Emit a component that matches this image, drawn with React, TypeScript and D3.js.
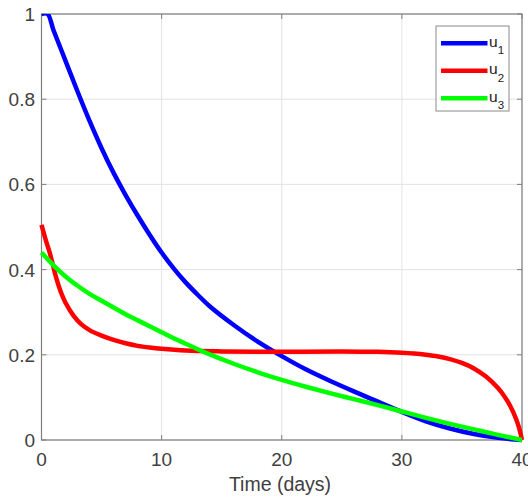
import React from "react";
import * as d3 from "d3";

const u1T = [0, 0.5, 1, 2, 3, 4, 5, 6, 7, 8, 9, 10, 11, 12, 13, 14, 16, 18, 20, 22, 24, 26, 28, 30, 32, 34, 36, 38, 40];
const u1V = [1, 1, 0.962, 0.89, 0.818, 0.749, 0.685, 0.627, 0.575, 0.527, 0.482, 0.44, 0.403, 0.37, 0.341, 0.314, 0.27, 0.231, 0.197, 0.166, 0.139, 0.114, 0.09, 0.066, 0.044, 0.027, 0.014, 0.005, 0];

const u2T = [0, 0.35, 0.7, 1, 1.25, 1.6, 2, 2.66, 3.3, 4, 5, 6, 7, 8, 9, 10, 12, 15, 20, 25, 28, 30, 31, 32, 33, 34, 35, 36, 37, 38, 38.5, 39, 39.5, 39.75, 40];
const u2V = [0.505, 0.47, 0.438, 0.405, 0.378, 0.348, 0.322, 0.292, 0.272, 0.258, 0.245, 0.235, 0.227, 0.221, 0.217, 0.214, 0.21, 0.208, 0.207, 0.208, 0.207, 0.205, 0.203, 0.2, 0.196, 0.19, 0.181, 0.168, 0.149, 0.122, 0.104, 0.081, 0.05, 0.029, 0];

const u3T = [0, 1, 2, 3, 4, 5, 6, 7, 8, 9, 10, 11, 12, 13, 14, 16, 18, 20, 22, 24, 26, 28, 30, 32, 34, 36, 38, 40];
const u3V = [0.44, 0.41, 0.384, 0.362, 0.343, 0.327, 0.311, 0.295, 0.281, 0.267, 0.253, 0.239, 0.226, 0.213, 0.201, 0.179, 0.159, 0.141, 0.125, 0.11, 0.096, 0.082, 0.067, 0.052, 0.038, 0.025, 0.012, 0];

const xTicks = [0, 10, 20, 30, 40];
const yTicks = [0, 0.2, 0.4, 0.6, 0.8, 1];
const seriesNames = ["1", "2", "3"];
const seriesColors = ["#0000ff", "#ff0000", "#00ff00"];

export default function App() {
  const W = 528, H = 499;
  const x = d3.scaleLinear().domain([0, 40]).range([41.5, 522]);
  const y = d3.scaleLinear().domain([0, 1]).range([440, 14]);
  const line = d3
    .line<[number, number]>()
    .x((d) => x(d[0]))
    .y((d) => y(d[1]))
    .curve(d3.curveCatmullRom.alpha(0.5));
  const series = [
    u1T.map((t, i) => [t, u1V[i]] as [number, number]),
    u2T.map((t, i) => [t, u2V[i]] as [number, number]),
    u3T.map((t, i) => [t, u3V[i]] as [number, number]),
  ];
  const font = "'Liberation Sans', Arial, Helvetica, sans-serif";
  const axisCol = "#7f7f7f";
  const textCol = "#404040";
  const [x0, x1] = x.range();
  const [y0, y1] = y.range();
  const legX = 436, legY = 26, legW = 73, legH = 85;
  return (
    <svg
      width={W}
      height={H}
      style={{ position: "absolute", left: 0, top: 0, background: "#fff" }}
      fontFamily={font}
    >
      <rect x={0} y={0} width={W} height={H} fill="#fff" />
      {xTicks.map((t) => (
        <line key={"gx" + t} x1={x(t)} x2={x(t)} y1={y0} y2={y1} stroke="#e3e3e3" strokeWidth={1} />
      ))}
      {yTicks.map((t) => (
        <line key={"gy" + t} x1={x0} x2={x1} y1={y(t)} y2={y(t)} stroke="#e3e3e3" strokeWidth={1} />
      ))}
      <rect x={x0} y={y1} width={x1 - x0} height={y0 - y1} fill="none" stroke={axisCol} strokeWidth={1.2} />
      {xTicks.map((t) => (
        <g key={"tx" + t}>
          <line x1={x(t)} x2={x(t)} y1={y0} y2={y0 - 5} stroke={axisCol} />
          <line x1={x(t)} x2={x(t)} y1={y1} y2={y1 + 5} stroke={axisCol} />
          <text x={x(t)} y={466} textAnchor="middle" fontSize={19} fill={textCol}>
            {String(t)}
          </text>
        </g>
      ))}
      {yTicks.map((t) => (
        <g key={"ty" + t}>
          <line x1={x0} x2={x0 + 5} y1={y(t)} y2={y(t)} stroke={axisCol} />
          <line x1={x1} x2={x1 - 5} y1={y(t)} y2={y(t)} stroke={axisCol} />
          <text x={35} y={y(t) + 7} textAnchor="end" fontSize={19} fill={textCol}>
            {String(t)}
          </text>
        </g>
      ))}
      <text x={280} y={491} textAnchor="middle" fontSize={19.5} fill={textCol}>
        Time (days)
      </text>
      <defs>
        <clipPath id="clip">
          <rect x={x0 - 3} y={y1} width={x1 - x0 + 6} height={y0 - y1 + 3} />
        </clipPath>
      </defs>
      <g clipPath="url(#clip)">
        {series.map((s, i) => (
          <path key={i} d={line(s) || ""} fill="none" stroke={seriesColors[i]} strokeWidth={4.5} strokeLinejoin="round" />
        ))}
      </g>
      <rect x={legX} y={legY} width={legW} height={legH} fill="#fff" stroke="#8a8a8a" strokeWidth={1} />
      {seriesNames.map((n, i) => {
        const ly = 43.3 + i * 27.5;
        return (
          <g key={"lg" + i}>
            <line x1={441} x2={487.5} y1={ly} y2={ly} stroke={seriesColors[i]} strokeWidth={4.5} />
            <text x={489} y={ly + 3.5} fontSize={15.5} fill="#222">
              u
              <tspan fontSize={11.5} dy={7.5}>
                {n}
              </tspan>
            </text>
          </g>
        );
      })}
    </svg>
  );
}
